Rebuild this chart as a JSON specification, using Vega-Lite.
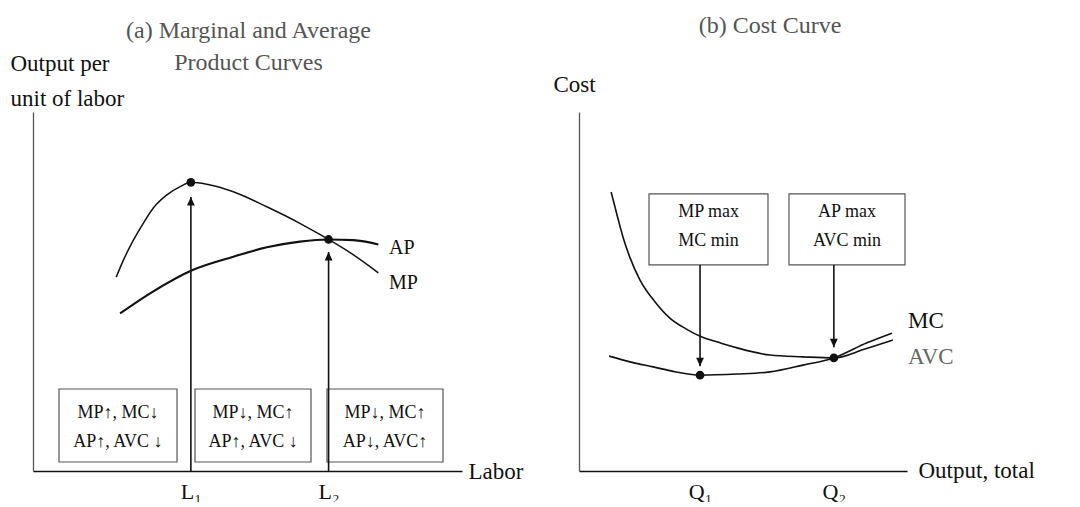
{
  "$schema": "https://vega.github.io/schema/vega-lite/v6.json",
  "padding": {"left": 10, "top": 14, "right": 0, "bottom": 0},
  "background": "white",
  "bounds": "flush",
  "spacing": 117,
  "config": {
    "font": "Liberation Serif",
    "view": {"stroke": null},
    "axis": {
      "grid": false, "ticks": false, "domainColor": "#111", "domainWidth": 1.6,
      "labelFont": "Liberation Serif", "titleFont": "Liberation Serif",
      "labelFontSize": 22, "titleFontSize": 23, "titleFontWeight": "normal",
      "labelColor": "#111", "titleColor": "#111", "labelPadding": 10
    },
    "title": {"font": "Liberation Serif", "fontWeight": "normal", "fontSize": 24, "color": "#555"}
  },
  "datasets": {
    "productCurves": [
      {"curve": "MP", "labor": 1.94, "output": 5.40},
      {"curve": "MP", "labor": 2.11, "output": 5.88},
      {"curve": "MP", "labor": 2.34, "output": 6.43},
      {"curve": "MP", "labor": 2.57, "output": 6.90},
      {"curve": "MP", "labor": 2.80, "output": 7.32},
      {"curve": "MP", "labor": 3.12, "output": 7.69},
      {"curve": "MP", "labor": 3.43, "output": 7.92},
      {"curve": "MP", "labor": 3.68, "output": 8.04},
      {"curve": "MP", "labor": 4.05, "output": 7.99},
      {"curve": "MP", "labor": 4.67, "output": 7.78},
      {"curve": "MP", "labor": 5.45, "output": 7.36},
      {"curve": "MP", "labor": 6.22, "output": 6.90},
      {"curve": "MP", "labor": 6.89, "output": 6.45},
      {"curve": "MP", "labor": 7.47, "output": 6.02},
      {"curve": "MP", "labor": 8.05, "output": 5.52},
      {"curve": "AP", "labor": 2.03, "output": 4.39},
      {"curve": "AP", "labor": 2.73, "output": 4.95},
      {"curve": "AP", "labor": 3.72, "output": 5.60},
      {"curve": "AP", "labor": 4.67, "output": 5.97},
      {"curve": "AP", "labor": 5.45, "output": 6.23},
      {"curve": "AP", "labor": 6.22, "output": 6.39},
      {"curve": "AP", "labor": 6.89, "output": 6.45},
      {"curve": "AP", "labor": 7.47, "output": 6.43},
      {"curve": "AP", "labor": 8.05, "output": 6.31}
    ],
    "pointsA": [
      {"point": "MP max", "labor": 3.68, "output": 8.04},
      {"point": "AP max", "labor": 6.89, "output": 6.45}
    ],
    "arrowsA": [
      {"label": "L1", "labor": 3.68, "output": 7.63, "output2": 0},
      {"label": "L2", "labor": 6.89, "output": 6.10, "output2": 0}
    ],
    "boxesA": [
      {"stage": 1, "labor": 0.606, "labor2": 3.357, "output": 2.284, "output2": 0.251},
      {"stage": 2, "labor": 3.776, "labor2": 6.48, "output": 2.284, "output2": 0.251},
      {"stage": 3, "labor": 6.853, "labor2": 9.557, "output": 2.284, "output2": 0.251}
    ],
    "boxTextA": [
      {"labor": 1.98, "output": 1.616, "text": "MP↑, MC↓"},
      {"labor": 1.98, "output": 0.808, "text": "AP↑, AVC ↓"},
      {"labor": 5.13, "output": 1.616, "text": "MP↓, MC↑"},
      {"labor": 5.13, "output": 0.808, "text": "AP↑, AVC ↓"},
      {"labor": 8.205, "output": 1.616, "text": "MP↓, MC↑"},
      {"labor": 8.205, "output": 0.808, "text": "AP↓, AVC↑"}
    ],
    "curveLabelsA": [
      {"labor": 8.30, "output": 6.21, "label": "AP"},
      {"labor": 8.30, "output": 5.24, "label": "MP"}
    ],
    "costCurves": [
      {"curve": "AVC", "quantity": 0.98, "cost": 7.77},
      {"curve": "AVC", "quantity": 1.16, "cost": 7.13},
      {"curve": "AVC", "quantity": 1.34, "cost": 6.52},
      {"curve": "AVC", "quantity": 1.56, "cost": 5.93},
      {"curve": "AVC", "quantity": 1.86, "cost": 5.32},
      {"curve": "AVC", "quantity": 2.32, "cost": 4.71},
      {"curve": "AVC", "quantity": 2.77, "cost": 4.26},
      {"curve": "AVC", "quantity": 3.26, "cost": 3.96},
      {"curve": "AVC", "quantity": 3.75, "cost": 3.73},
      {"curve": "AVC", "quantity": 4.30, "cost": 3.57},
      {"curve": "AVC", "quantity": 4.82, "cost": 3.43},
      {"curve": "AVC", "quantity": 5.82, "cost": 3.23},
      {"curve": "AVC", "quantity": 6.83, "cost": 3.18},
      {"curve": "AVC", "quantity": 7.77, "cost": 3.15},
      {"curve": "AVC", "quantity": 8.72, "cost": 3.40},
      {"curve": "AVC", "quantity": 9.57, "cost": 3.65},
      {"curve": "MC", "quantity": 0.92, "cost": 3.20},
      {"curve": "MC", "quantity": 1.56, "cost": 3.04},
      {"curve": "MC", "quantity": 2.26, "cost": 2.90},
      {"curve": "MC", "quantity": 2.96, "cost": 2.76},
      {"curve": "MC", "quantity": 3.69, "cost": 2.67},
      {"curve": "MC", "quantity": 4.82, "cost": 2.70},
      {"curve": "MC", "quantity": 5.82, "cost": 2.76},
      {"curve": "MC", "quantity": 6.83, "cost": 2.95},
      {"curve": "MC", "quantity": 7.77, "cost": 3.15},
      {"curve": "MC", "quantity": 8.78, "cost": 3.57},
      {"curve": "MC", "quantity": 9.54, "cost": 3.84}
    ],
    "pointsB": [
      {"point": "MC min", "quantity": 3.69, "cost": 2.67},
      {"point": "AVC min", "quantity": 7.77, "cost": 3.15}
    ],
    "arrowsB": [
      {"label": "Q1", "quantity": 3.69, "cost": 2.92, "cost2": 5.74},
      {"label": "Q2", "quantity": 7.77, "cost": 3.45, "cost2": 5.74}
    ],
    "boxesB": [
      {"box": 1, "quantity": 2.134, "quantity2": 5.762, "cost": 7.72, "cost2": 5.74},
      {"box": 2, "quantity": 6.402, "quantity2": 9.939, "cost": 7.72, "cost2": 5.74}
    ],
    "boxTextB": [
      {"quantity": 3.95, "cost": 7.21, "text": "MP max"},
      {"quantity": 3.95, "cost": 6.41, "text": "MC min"},
      {"quantity": 8.17, "cost": 7.21, "text": "AP max"},
      {"quantity": 8.17, "cost": 6.41, "text": "AVC min"}
    ],
    "curveLabelsB": [
      {"quantity": 10.03, "cost": 4.18, "label": "MC", "tone": "dark"},
      {"quantity": 10.03, "cost": 3.18, "label": "AVC", "tone": "light"}
    ]
  },
  "hconcat": [
    {
      "width": 429,
      "height": 359,
      "title": {"text": ["(a) Marginal and Average", "Product Curves"], "frame": "group", "anchor": "middle", "offset": -23, "lineHeight": 32, "dx": 1},
      "encoding": {
        "x": {
          "field": "labor", "type": "quantitative",
          "scale": {"domain": [0, 10], "nice": false, "zero": false},
          "axis": {
            "title": "Labor", "values": [3.68, 6.89],
            "labelExpr": "datum.value < 5 ? 'L₁' : 'L₂'",
            "titleX": 435, "titleY": 7, "titleAlign": "left", "titleBaseline": "alphabetic", "titleAngle": 0
          }
        },
        "y": {
          "field": "output", "type": "quantitative",
          "scale": {"domain": [0, 10], "nice": false, "zero": false},
          "axis": {
            "title": ["Output per", "unit of labor"], "labels": false,
            "domainColor": "#555", "domainWidth": 1.3,
            "titleAngle": 0, "titleX": -23, "titleY": -42, "titleAlign": "left",
            "titleBaseline": "alphabetic", "titleLineHeight": 35
          }
        }
      },
      "layer": [
        {
          "data": {"name": "boxesA"},
          "mark": {"type": "rect", "fill": "white", "stroke": "#555", "strokeWidth": 1.2},
          "encoding": {"x2": {"field": "labor2"}, "y2": {"field": "output2"}}
        },
        {
          "data": {"name": "arrowsA"},
          "mark": {"type": "rule", "color": "#111", "strokeWidth": 1.6},
          "encoding": {"y2": {"field": "output2"}}
        },
        {
          "data": {"name": "arrowsA"},
          "mark": {"type": "point", "shape": "M0,0L-1.3,2.8L1.3,2.8Z", "size": 36, "filled": true, "color": "#111", "opacity": 1}
        },
        {
          "data": {"name": "productCurves"},
          "mark": {"type": "line", "interpolate": "monotone", "color": "#111"},
          "encoding": {
            "detail": {"field": "curve"},
            "strokeWidth": {"field": "curve", "type": "ordinal", "scale": {"domain": ["MP", "AP"], "range": [1.5, 2.1]}, "legend": null}
          }
        },
        {
          "data": {"name": "pointsA"},
          "mark": {"type": "point", "shape": "circle", "size": 75, "filled": true, "color": "#111", "opacity": 1}
        },
        {
          "data": {"name": "boxTextA"},
          "mark": {"type": "text", "font": "Liberation Serif, DejaVu Serif", "fontSize": 18, "align": "center", "baseline": "middle", "color": "#111"},
          "encoding": {"text": {"field": "text"}}
        },
        {
          "data": {"name": "curveLabelsA"},
          "mark": {"type": "text", "fontSize": 20, "align": "left", "baseline": "middle", "color": "#111"},
          "encoding": {"text": {"field": "label"}}
        }
      ]
    },
    {
      "width": 328,
      "height": 359,
      "title": {"text": "(b) Cost Curve", "frame": "group", "anchor": "middle", "offset": 35, "dx": 27},
      "encoding": {
        "x": {
          "field": "quantity", "type": "quantitative",
          "scale": {"domain": [0, 10], "nice": false, "zero": false},
          "axis": {
            "title": "Output, total", "values": [3.69, 7.77],
            "labelExpr": "datum.value < 5 ? 'Q₁' : 'Q₂'",
            "titleX": 339, "titleY": 6, "titleAlign": "left", "titleBaseline": "alphabetic", "titleAngle": 0
          }
        },
        "y": {
          "field": "cost", "type": "quantitative",
          "scale": {"domain": [0, 10], "nice": false, "zero": false},
          "axis": {
            "title": "Cost", "labels": false,
            "domainColor": "#555", "domainWidth": 1.3,
            "titleAngle": 0, "titleX": -26, "titleY": -21, "titleAlign": "left",
            "titleBaseline": "alphabetic"
          }
        }
      },
      "layer": [
        {
          "data": {"name": "boxesB"},
          "mark": {"type": "rect", "fill": "white", "stroke": "#555", "strokeWidth": 1.2},
          "encoding": {"x2": {"field": "quantity2"}, "y2": {"field": "cost2"}}
        },
        {
          "data": {"name": "arrowsB"},
          "mark": {"type": "rule", "color": "#111", "strokeWidth": 1.6},
          "encoding": {"y2": {"field": "cost2"}}
        },
        {
          "data": {"name": "arrowsB"},
          "mark": {"type": "point", "shape": "M0,0L-1.3,-2.8L1.3,-2.8Z", "size": 36, "filled": true, "color": "#111", "opacity": 1}
        },
        {
          "data": {"name": "costCurves"},
          "mark": {"type": "line", "interpolate": "monotone", "color": "#111", "strokeWidth": 1.6},
          "encoding": {"detail": {"field": "curve"}}
        },
        {
          "data": {"name": "pointsB"},
          "mark": {"type": "point", "shape": "circle", "size": 75, "filled": true, "color": "#111", "opacity": 1}
        },
        {
          "data": {"name": "boxTextB"},
          "mark": {"type": "text", "fontSize": 18, "align": "center", "baseline": "middle", "color": "#111"},
          "encoding": {"text": {"field": "text"}}
        },
        {
          "data": {"name": "curveLabelsB"},
          "mark": {"type": "text", "fontSize": 23, "align": "left", "baseline": "middle"},
          "encoding": {
            "text": {"field": "label"},
            "color": {"field": "tone", "type": "nominal", "scale": {"domain": ["dark", "light"], "range": ["#111", "#666"]}, "legend": null}
          }
        }
      ]
    }
  ],
  "resolve": {"scale": {"x": "independent", "y": "independent", "strokeWidth": "independent", "color": "independent"}}
}
